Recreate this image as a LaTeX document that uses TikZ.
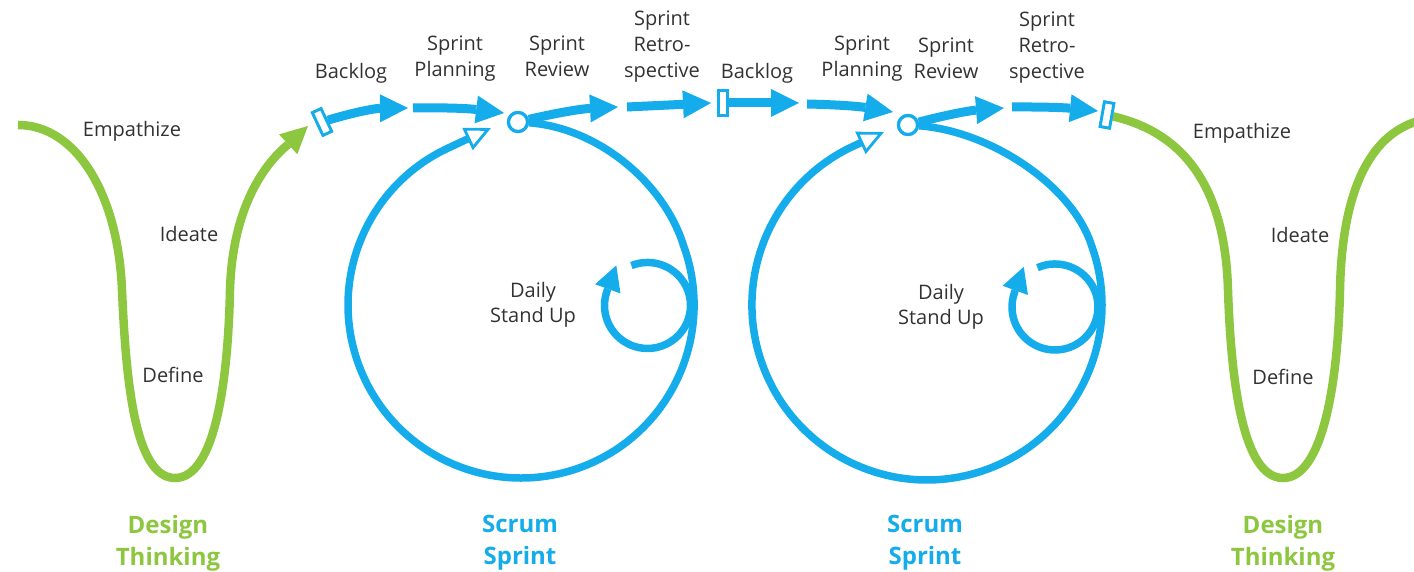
\documentclass[tikz,border=0pt]{standalone}
\usepackage{fontspec}
\setmainfont{Open Sans}
\usetikzlibrary{arrows.meta}
\definecolor{sblue}{RGB}{20,172,234}
\definecolor{dgreen}{RGB}{141,198,63}
\definecolor{tgray}{RGB}{50,50,50}
\begin{document}
\begin{tikzpicture}[x=1pt,y=1pt,
  flow/.style={line width=9pt, sblue, -{Triangle[length=28pt,width=28pt,line width=0pt]}},
  loopline/.style={line width=7.5pt, sblue},
  marker/.style={draw=sblue, fill=white, line width=2.8pt, minimum width=9.5pt, minimum height=25pt, inner sep=0pt},
  hub/.style={circle, draw=sblue, fill=white, line width=3.2pt, minimum size=19pt, inner sep=0pt},
  lbl/.style={font=\fontsize{20}{26}\selectfont, text=tgray, align=center, inner sep=0pt, anchor=north},
  sl/.style={font=\fontsize{20}{25}\selectfont, text=tgray, align=center, inner sep=0pt},
  big/.style={font=\bfseries\fontsize{24}{32}\selectfont, align=center, inner sep=0pt, anchor=north},
  dt/.style={line width=8.5pt, dgreen},
]
\useasboundingbox (0,0) rectangle (1414,572);

% ---- named points ----
\coordinate (g1s) at (18,447);
\coordinate (g1t) at (308,446);
\coordinate (g2e) at (1422,452);
\coordinate (a1) at (408,464);
\coordinate (a2s) at (413,464);
\coordinate (a2) at (504,459);
\coordinate (a3) at (618,465);
\coordinate (a4s) at (627,465);
\coordinate (a4) at (711,469);
\coordinate (b1) at (799,469);
\coordinate (b2s) at (807,468);
\coordinate (b2) at (893,460);
\coordinate (b3) at (1004,464);
\coordinate (b4s) at (1012,465);
\coordinate (b4) at (1098,461);
\coordinate (o1) at (491,444);
\coordinate (o2) at (884,440);
\coordinate (s1) at (631.4,306.4);
\coordinate (s2) at (1037.5,304.3);
\coordinate (j1) at (683.6,326.2);
\coordinate (j2) at (1091.4,326.9);

% ---- nodes ----
\node[hub] (r1) at (518,450) {};
\node[hub] (r2) at (908,447) {};
\node[marker, rotate=25] (m1) at (322,450) {};
\node[marker] (m2) at (723,469) {};
\node[marker, rotate=-10] (m3) at (1107,457) {};

% ---- design thinking curves ----
\draw[dt, -{Triangle[length=27pt,width=27pt,line width=0pt]}] (g1s)
  .. controls (75,447) and (118,380) .. (122,282)
  .. controls (126,190) and (135,94) .. (175,94)
  .. controls (215,94) and (228,190) .. (230,282)
  .. controls (233,385) and (282,422) .. (g1t);
\draw[dt] (m3)
  .. controls (1180,440) and (1225,390) .. (1228,282)
  .. controls (1231,190) and (1243,94) .. (1283,94)
  .. controls (1323,94) and (1338,190) .. (1340,282)
  .. controls (1342,385) and (1372,440) .. (g2e);

% ---- sprint loops ----
\draw[loopline, -{Triangle[open,length=26pt,width=24pt,line width=2.8pt]}] (r1)
  .. controls (600,444) and (665,387) .. (j1)
  arc[start angle=20, end angle=-245, radius=173] -- (o1);
\draw[loopline, -{Triangle[length=25pt,width=27pt,line width=0pt]}] (s1)
  arc[start angle=112, end angle=-200, radius=43] -- ++(9.2,25.4);
\draw[loopline, -{Triangle[open,length=26pt,width=24pt,line width=2.8pt]}] (r2)
  .. controls (990,441) and (1072,387) .. (j2)
  arc[start angle=20, end angle=-245, radius=175] -- (o2);
\draw[loopline, -{Triangle[length=25pt,width=27pt,line width=0pt]}] (s2)
  arc[start angle=114, end angle=-200, radius=43] -- ++(9.2,25.4);

% ---- flow arrows ----
\draw[flow] (m1) to[bend left=8] (a1);
\draw[flow] (a2s) to[bend left=4] (a2);
\draw[flow] (r1) to[bend left=5] (a3);
\draw[flow] (a4s) -- (a4);
\draw[flow] (m2) -- (b1);
\draw[flow] (b2s) to[bend left=4] (b2);
\draw[flow] (r2) to[bend left=5] (b3);
\draw[flow] (b4s) to[bend left=3] (b4);

% redraw nodes on top
\node[hub] at (r1) {};
\node[hub] at (r2) {};
\node[marker, rotate=25] at (m1) {};
\node[marker] at (m2) {};
\node[marker, rotate=-10] at (m3) {};

% ---- labels ----
\node[sl] (emp1) at (132,441) {Empathize};
\node[sl] (ide1) at (189,338) {Ideate};
\node[sl] (def1) at (173,197) {Define};
\node[big, text=dgreen] (dt1) at (168,57) {Design\\Thinking};
\node[lbl] (bl1) at (351,509) {Backlog};
\node[lbl] (sp1) at (455,536) {Sprint\\Planning};
\node[lbl] (sr1) at (557,536) {Sprint\\Review};
\node[lbl] (sre1) at (662,561) {Sprint\\Retro-\\spective};
\node[sl] (ds1) at (533,267) {Daily\\Stand Up};
\node[big, text=sblue] (ss1) at (520,57) {Scrum\\Sprint};
\node[lbl] (bl2) at (757,509) {Backlog};
\node[lbl] (sp2) at (862,536) {Sprint\\Planning};
\node[lbl] (sr2) at (946,534) {Sprint\\Review};
\node[lbl] (sre2) at (1047,560) {Sprint\\Retro-\\spective};
\node[sl] (ds2) at (941,265) {Daily\\Stand Up};
\node[big, text=sblue] (ss2) at (925,57) {Scrum\\Sprint};
\node[sl] (emp2) at (1242,439) {Empathize};
\node[sl] (ide2) at (1300,337) {Ideate};
\node[sl] (def2) at (1283,195) {Define};
\node[big, text=dgreen] (dt2) at (1283,57) {Design\\Thinking};
\end{tikzpicture}
\end{document}
